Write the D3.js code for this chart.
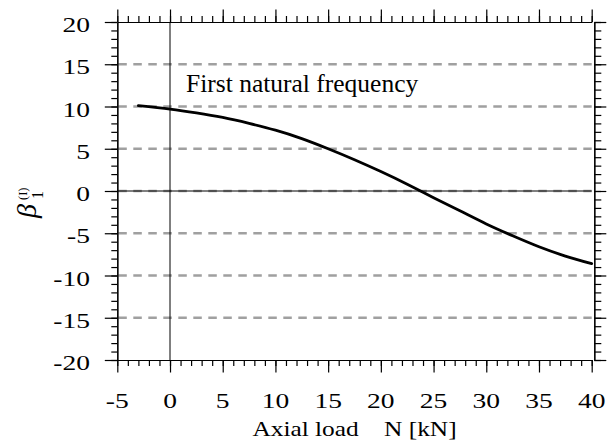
<!DOCTYPE html>
<html>
<head>
<meta charset="utf-8">
<script src="https://cdn.jsdelivr.net/npm/d3@7"></script>
<style>
  html, body { margin: 0; padding: 0; background: #fff; }
  svg { display: block; font-family: "Liberation Serif", "Times New Roman", serif; }
</style>
</head>
<body>
<div id="viz"></div>
<script>
// axial load N [kN] and first natural frequency coefficient
const loadN = [-3, 0, 2.5, 5, 7.5, 10, 12.5, 15, 17.5, 20, 22.5, 25, 27.5, 30, 32.5, 35, 37.5, 40];
const beta1 = [10.1, 9.7, 9.25, 8.7, 8.0, 7.2, 6.2, 5.0, 3.7, 2.3, 0.8, -0.8, -2.35, -3.9, -5.3, -6.6, -7.7, -8.6];

const xTicks = [-5, 0, 5, 10, 15, 20, 25, 30, 35, 40];
const yTicks = [-20, -15, -10, -5, 0, 5, 10, 15, 20];
const gridLevels = [-15, -10, -5, 0, 5, 10, 15];
const xMinor = d3.range(-5, 41, 1);
const yMinor = d3.range(-20, 21, 1);

const WIDTH = 607, HEIGHT = 445;

const x = d3.scaleLinear().domain([-5, 40]).range([117.3, 591.7]);
const y = d3.scaleLinear().domain([-20, 20]).range([360, 22]);

const svg = d3.select("#viz").append("svg")
  .attr("width", WIDTH)
  .attr("height", HEIGHT);

// dashed grey levels
svg.append("g")
  .selectAll("line")
  .data(gridLevels)
  .join("line")
  .attr("x1", x(-5) + 1)
  .attr("x2", x(40))
  .attr("y1", d => y(d))
  .attr("y2", d => y(d))
  .attr("stroke", "#a0a0a0")
  .attr("stroke-width", 2.6)
  .attr("stroke-dasharray", "8.5,6.5");

// zero lines
svg.append("line")
  .attr("x1", x(-5)).attr("x2", x(40))
  .attr("y1", y(0)).attr("y2", y(0))
  .attr("stroke", "#000").attr("stroke-width", 1);
svg.append("line")
  .attr("x1", x(0)).attr("x2", x(0))
  .attr("y1", y(-20)).attr("y2", y(20))
  .attr("stroke", "#000").attr("stroke-width", 1);

// axes: major ticks long, minor short, all pointing out
function styleAxis(g) {
  g.select(".domain").attr("stroke", "#000").attr("stroke-width", 1.2);
  g.selectAll(".tick line").attr("stroke", "#000").attr("stroke-width", 1.2);
  g.selectAll(".tick text").remove();
}

const bottomMinor = svg.append("g").attr("transform", `translate(0,${y(-20)})`)
  .call(d3.axisBottom(x).tickValues(xMinor).tickSize(6).tickSizeOuter(0));
const bottomMajor = svg.append("g").attr("transform", `translate(0,${y(-20)})`)
  .call(d3.axisBottom(x).tickValues(xTicks).tickSize(12.5).tickSizeOuter(0));
const topMinor = svg.append("g").attr("transform", `translate(0,${y(20)})`)
  .call(d3.axisTop(x).tickValues(xMinor).tickSize(6).tickSizeOuter(0));
const topMajor = svg.append("g").attr("transform", `translate(0,${y(20)})`)
  .call(d3.axisTop(x).tickValues(xTicks).tickSize(12.5).tickSizeOuter(0));
const leftMinor = svg.append("g").attr("transform", `translate(${x(-5)},0)`)
  .call(d3.axisLeft(y).tickValues(yMinor).tickSize(6).tickSizeOuter(0));
const leftMajor = svg.append("g").attr("transform", `translate(${x(-5)},0)`)
  .call(d3.axisLeft(y).tickValues(yTicks).tickSize(12.5).tickSizeOuter(0));
const rightMinor = svg.append("g").attr("transform", `translate(${x(40) + 2.6},0)`)
  .call(d3.axisRight(y).tickValues(yMinor).tickSize(7).tickSizeOuter(0));
const rightMajor = svg.append("g").attr("transform", `translate(${x(40) + 2.6},0)`)
  .call(d3.axisRight(y).tickValues(yTicks).tickSize(12).tickSizeOuter(0));

[bottomMinor, bottomMajor, topMinor, topMajor, leftMinor, leftMajor, rightMinor, rightMajor]
  .forEach(styleAxis);

// tick labels (the source font is a little wide, so stretch horizontally)
svg.append("g")
  .selectAll("g")
  .data(xTicks)
  .join("g")
  .attr("transform", d => `translate(${x(d)},408.3) scale(1.25,1)`)
  .append("text")
  .attr("text-anchor", "middle")
  .style("font-size", "22px")
  .text(d => String(d));

svg.append("g")
  .selectAll("g")
  .data(yTicks)
  .join("g")
  .attr("transform", d => `translate(90,${y(d) + 10}) scale(1.25,1)`)
  .append("text")
  .attr("text-anchor", "end")
  .style("font-size", "22px")
  .text(d => String(d));

// curve
svg.append("path")
  .datum(loadN.map((n, i) => [n, beta1[i]]))
  .attr("fill", "none")
  .attr("stroke", "#000")
  .attr("stroke-width", 2.8)
  .attr("stroke-linecap", "round")
  .attr("d", d3.line()
    .x(d => x(d[0]))
    .y(d => y(d[1]))
    .curve(d3.curveNatural));

// annotation
svg.append("text")
  .attr("x", 186)
  .attr("y", 91.7)
  .style("font-size", "25.5px")
  .text("First natural frequency");

// x title
svg.append("g")
  .attr("transform", "translate(354.5,436) scale(1.18,1)")
  .append("text")
  .attr("text-anchor", "middle")
  .style("font-size", "21.5px")
  .style("white-space", "pre")
  .text("Axial load    N [kN]");

// y title: beta with subscript 1 and superscript (I)
const yLab = svg.append("g").attr("transform", "translate(36,218) rotate(-90)");
yLab.append("text")
  .attr("x", 0).attr("y", 0)
  .style("font-size", "28px")
  .style("font-style", "italic")
  .text("β");
yLab.append("text")
  .attr("x", 19).attr("y", 7)
  .style("font-size", "16px")
  .text("1");
yLab.append("text")
  .attr("x", 18).attr("y", -9)
  .style("font-size", "12.5px")
  .text("(I)");
</script>
</body>
</html>
